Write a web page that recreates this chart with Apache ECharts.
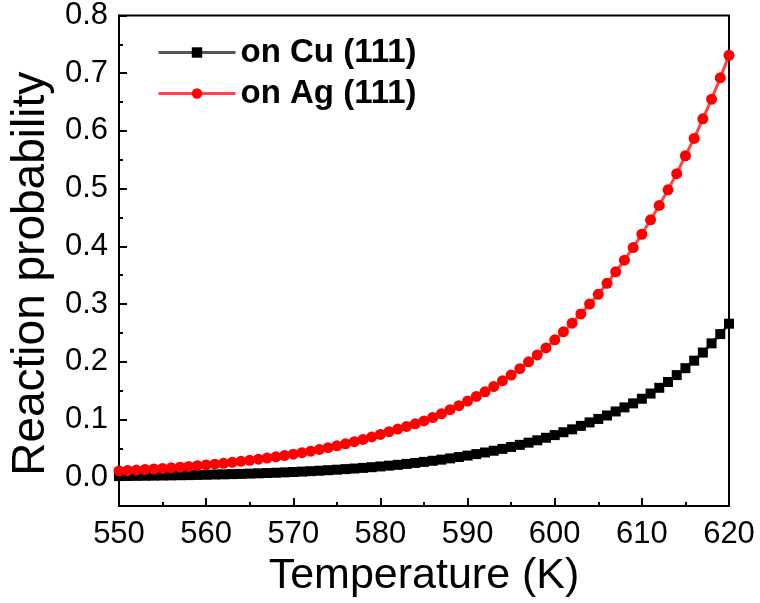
<!DOCTYPE html>
<html>
<head>
<meta charset="utf-8">
<script src="https://cdn.jsdelivr.net/npm/echarts@6/dist/echarts.min.js"></script>
<style>html,body{margin:0;padding:0;background:#fff}#c{width:760px;height:603px}</style>
</head>
<body>
<div id="c"></div>
<script>
const temperatures = [550,551,552,553,554,555,556,557,558,559,560,561,562,563,564,565,566,567,568,569,570,571,572,573,574,575,576,577,578,579,580,581,582,583,584,585,586,587,588,589,590,591,592,593,594,595,596,597,598,599,600,601,602,603,604,605,606,607,608,609,610,611,612,613,614,615,616,617,618,619,620];
const cuValues = [0.0020,0.0022,0.0024,0.0026,0.0028,0.0030,0.0032,0.0035,0.0037,0.0040,0.0043,0.0047,0.0050,0.0054,0.0058,0.0063,0.0068,0.0073,0.0078,0.0084,0.0091,0.0098,0.0105,0.0113,0.0122,0.0131,0.0141,0.0151,0.0162,0.0174,0.0187,0.0201,0.0215,0.0231,0.0248,0.0266,0.0285,0.0305,0.0327,0.0350,0.0375,0.0401,0.0429,0.0459,0.0491,0.0525,0.0561,0.0599,0.0640,0.0684,0.0730,0.0780,0.0830,0.0890,0.0950,0.1010,0.1070,0.1140,0.1210,0.1280,0.1360,0.1450,0.1550,0.1650,0.1770,0.1890,0.2020,0.2160,0.2320,0.2480,0.2660];
const agValues = [0.0110,0.0117,0.0125,0.0134,0.0143,0.0153,0.0164,0.0175,0.0187,0.0200,0.0213,0.0227,0.0242,0.0258,0.0275,0.0293,0.0312,0.0332,0.0353,0.0375,0.0400,0.0425,0.0452,0.0481,0.0512,0.0545,0.0580,0.0617,0.0656,0.0698,0.0742,0.0790,0.0835,0.0880,0.0925,0.0975,0.1035,0.110,0.117,0.124,0.132,0.140,0.148,0.157,0.167,0.177,0.188,0.200,0.212,0.224,0.238,0.252,0.267,0.283,0.300,0.317,0.336,0.356,0.376,0.398,0.421,0.446,0.471,0.498,0.526,0.557,0.587,0.621,0.655,0.692,0.731];
const yMajorTicks = [0,0.1,0.2,0.3,0.4,0.5,0.6,0.7,0.8];
const yMinorTicks = [0.05,0.15,0.25,0.35,0.45,0.55,0.65,0.75];
const seriesNames = ['on Cu (111)','on Ag (111)'];

const FONT = '"Liberation Sans", Arial, sans-serif';
const chart = echarts.init(document.getElementById('c'), null, {renderer:'canvas'});
chart.setOption({
  animation:false,
  backgroundColor:'#fff',
  grid:{left:113,right:31,top:15,bottom:95,show:true,borderColor:'#000',borderWidth:2,backgroundColor:'transparent'},
  legend:{
    orient:'vertical', left:152, top:31, itemWidth:77, itemHeight:13, itemGap:8,
    lineStyle:{width:3},
    textStyle:{fontFamily:FONT,fontWeight:'bold',fontSize:33,color:'#000',padding:[0,0,0,0]},
    data:seriesNames
  },
  xAxis:{
    type:'value', min:550, max:620, interval:10,
    name:'Temperature (K)', nameLocation:'middle', nameGap:47,
    nameTextStyle:{fontFamily:FONT,fontSize:43,color:'#000'},
    axisLine:{show:true,onZero:false,lineStyle:{color:'#000',width:2}},
    axisTick:{show:true,inside:true,length:8,lineStyle:{color:'#000',width:2}},
    minorTick:{show:true,splitNumber:2,length:4,lineStyle:{color:'#000',width:2}},
    axisLabel:{fontFamily:FONT,fontSize:31,color:'#000',margin:13},
    splitLine:{show:false}
  },
  yAxis:[{
    type:'value', min:-0.05, max:0.8,
    name:'Reaction probability', nameLocation:'middle', nameGap:52,
    nameTextStyle:{fontFamily:FONT,fontSize:46,color:'#000',padding:[0,0,0,-26]},
    axisLine:{show:true,onZero:false,lineStyle:{color:'#000',width:2}},
    axisTick:{show:true,inside:true,length:8,customValues:yMajorTicks,lineStyle:{color:'#000',width:2}},
    axisLabel:{fontFamily:FONT,fontSize:31,color:'#000',margin:11,customValues:yMajorTicks,formatter:v=>v.toFixed(1)},
    splitLine:{show:false}
  },{
    type:'value', min:-0.05, max:0.8, position:'left',
    axisLine:{show:false},
    axisTick:{show:true,inside:true,length:4,customValues:yMinorTicks,lineStyle:{color:'#000',width:2}},
    axisLabel:{show:false},
    splitLine:{show:false}
  }],
  series:[{
    name:seriesNames[0], type:'line', yAxisIndex:0,
    data:temperatures.map((t,i)=>[t,cuValues[i]]),
    symbol:'rect', symbolSize:10, showAllSymbol:true, clip:false,
    lineStyle:{color:'#555',width:3},
    itemStyle:{color:'#000'}
  },{
    name:seriesNames[1], type:'line', yAxisIndex:0,
    data:temperatures.map((t,i)=>[t,agValues[i]]),
    symbol:'circle', symbolSize:11, showAllSymbol:true, clip:false,
    lineStyle:{color:'#f44',width:3},
    itemStyle:{color:'#f00'}
  }]
});
</script>
</body>
</html>
